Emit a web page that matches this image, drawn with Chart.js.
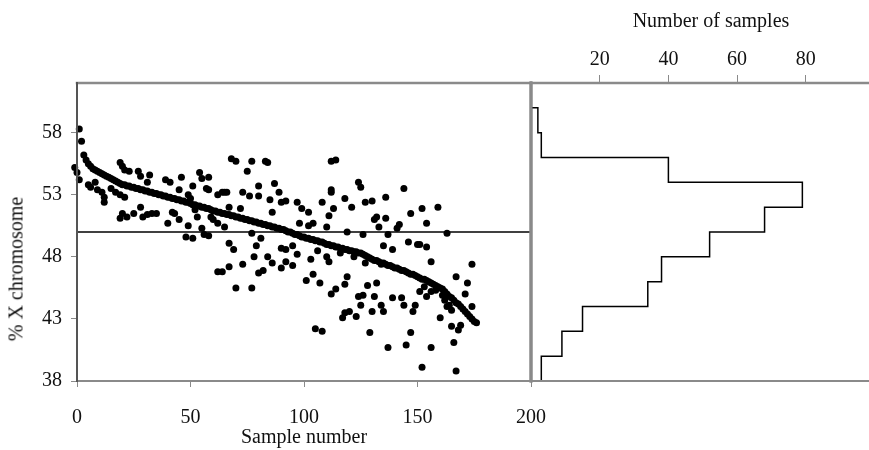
<!DOCTYPE html>
<html>
  <head>
    <title>% X chromosome</title>
    <script src="https://cdn.jsdelivr.net/npm/chart.js"></script>
    <style>
      body {
        margin: 0;
        background: white;
        font-family: "Liberation Serif", serif;
      }
      .wrap {
        position: relative;
        width: 869px;
        height: 450px;
        overflow: hidden;
      }
      canvas {
        position: absolute;
        top: 0;
      }
      #scatterChart {
        left: 0;
      }
      #histChart {
        left: 500px;
      }
      .ytitle {
        position: absolute;
        left: 16px;
        top: 269px;
        transform: translate(-50%, -50%) rotate(-90deg);
        font-size: 20px;
        color: #111;
        white-space: nowrap;
      }
      .toptitle {
        position: absolute;
        left: 711px;
        top: 20px;
        transform: translate(-50%, -50%);
        font-size: 20px;
        color: #111;
        white-space: nowrap;
      }
    </style>
  </head>
  <body>
    <div class="wrap">
      <canvas id="scatterChart" width="555" height="450"></canvas>
      <canvas id="histChart" width="369" height="450"></canvas>
      <div class="ytitle">% X chromosome</div>
      <div class="toptitle">Number of samples</div>
    </div>

    <script>
      // sorted values, samples 1..176
      const curveVals = [
        58.3, 57.3, 56.2, 55.8, 55.5, 55.3, 55.1, 55.0, 54.9, 54.8,
        54.7, 54.6, 54.5, 54.4, 54.3, 54.2, 54.1, 54.0, 53.9, 53.8,
        53.8, 53.7, 53.7, 53.6, 53.6, 53.5, 53.5, 53.4, 53.4, 53.3,
        53.3, 53.2, 53.2, 53.1, 53.1, 53.0, 53.0, 52.9, 52.9, 52.8,
        52.8, 52.7, 52.7, 52.6, 52.6, 52.5, 52.5, 52.4, 52.4, 52.3,
        52.2, 52.2, 52.1, 52.1, 52.0, 52.0, 51.9, 51.9, 51.8, 51.7,
        51.7, 51.6, 51.6, 51.5, 51.5, 51.4, 51.4, 51.3, 51.3, 51.2,
        51.2, 51.1, 51.1, 51.0, 51.0, 50.9, 50.9, 50.8, 50.8, 50.7,
        50.7, 50.6, 50.6, 50.5, 50.5, 50.4, 50.4, 50.3, 50.3, 50.2,
        50.2, 50.1, 50.0, 50.0, 49.9, 49.8, 49.8, 49.7, 49.6, 49.6,
        49.5, 49.5, 49.4, 49.4, 49.3, 49.3, 49.2, 49.2, 49.1, 49.0,
        49.0, 48.9, 48.9, 48.8, 48.8, 48.7, 48.7, 48.6, 48.6, 48.5,
        48.5, 48.4, 48.4, 48.3, 48.3, 48.2, 48.1, 48.0, 47.9, 47.8,
        47.7, 47.7, 47.6, 47.5, 47.5, 47.4, 47.3, 47.3, 47.2, 47.1,
        47.1, 47.0, 46.9, 46.9, 46.8, 46.7, 46.6, 46.6, 46.5, 46.4,
        46.3, 46.2, 46.2, 46.1, 46.0, 45.9, 45.8, 45.7, 45.6, 45.5,
        45.4, 45.2, 45.0, 44.8, 44.7, 44.5, 44.3, 44.2, 44.0, 43.8,
        43.6, 43.4, 43.2, 43.0, 42.8, 42.7
      ];

      // scattered values
      const scatterX = [
        -3, -1, 0, 1, 5, 6, 8, 9, 11, 12, 12, 15, 17, 19, 19, 20, 20, 19, 21, 21,
        22, 23, 25, 27, 28, 28, 29, 31, 31, 32, 33, 35, 39, 40, 41, 42, 43, 45, 45, 46,
        48, 49, 49, 50, 51, 51, 52, 53, 54, 55, 55, 56, 58, 58, 57, 58, 59, 60, 62, 62,
        62, 64, 64, 65, 65, 66, 67, 67, 67, 68, 69, 70, 70, 72, 73, 73, 75, 76, 77, 77,
        77, 78, 79, 80, 80, 80, 81, 82, 83, 84, 84, 85, 86, 86, 87, 89, 90, 90, 90, 92,
        92, 92, 95, 95, 97, 97, 98, 99, 101, 102, 102, 103, 104, 104, 105, 106, 107, 108, 108, 110,
        110, 111, 111, 112, 112, 112, 112, 113, 114, 114, 116, 117, 118, 118, 118, 119, 119, 120, 121, 122,
        123, 124, 124, 125, 125, 126, 126, 127, 127, 128, 129, 130, 130, 131, 131, 132, 132, 133, 134, 135,
        135, 136, 136, 137, 137, 134, 139, 139, 141, 142, 143, 144, 144, 145, 146, 147, 147, 148, 149, 150,
        151, 151, 152, 152, 153, 154, 154, 154, 156, 156, 159, 160, 163, 164, 165, 165, 166, 167, 167, 168,
        169, 171, 172, 174, 174, 156, 158, 161, 162, 163
      ];
      const scatterY = [
        57.8, 55.2, 54.8, 54.2, 53.8, 53.6, 54.0, 53.4, 53.2, 52.8, 52.4, 53.5, 53.2, 55.6, 53.0, 55.3, 51.5, 51.1, 55.0, 52.8,
        51.2, 54.9, 51.5, 54.9, 54.5, 52.0, 51.2, 51.4, 54.0, 54.6, 51.5, 51.5, 54.2, 50.7, 54.0, 51.6, 51.5, 51.0, 53.4, 54.4,
        49.6, 50.5, 53.0, 52.7, 53.7, 49.5, 51.8, 51.2, 54.8, 54.3, 50.3, 49.8, 54.4, 49.7, 53.5, 53.4, 51.2, 51.0, 53.0, 50.7,
        46.8, 46.8, 53.2, 50.4, 53.2, 53.2, 47.2, 49.1, 52.0, 55.9, 48.6, 55.7, 45.5, 51.9, 47.4, 53.2, 54.9, 52.9, 49.9, 55.7,
        45.5, 48.0, 48.9, 46.7, 53.7, 52.9, 49.5, 46.9, 55.7, 48.0, 55.6, 52.6, 51.6, 47.5, 53.9, 53.2, 47.1, 48.7, 52.4, 47.6,
        52.5, 48.6, 47.3, 48.9, 48.2, 52.4, 50.7, 51.9, 46.1, 51.6, 50.5, 47.8, 50.7, 46.6, 42.2, 48.5, 45.9, 52.4, 42.0, 50.4,
        48.0, 51.3, 47.6, 55.7, 53.4, 53.2, 45.0, 51.9, 55.8, 45.4, 48.3, 43.1, 52.7, 45.8, 43.5, 50.0, 46.4, 43.6, 52.0, 48.0,
        43.2, 54.0, 44.8, 53.6, 44.1, 49.8, 44.9, 52.4, 47.5, 45.7, 41.9, 52.5, 43.6, 51.0, 44.8, 51.2, 45.9, 50.4, 44.1, 43.6,
        48.9, 52.8, 51.1, 40.7, 49.8, 47.4, 44.7, 48.6, 50.3, 50.6, 44.7, 53.5, 44.1, 40.9, 49.2, 51.5, 41.9, 43.6, 44.1, 49.0,
        49.0, 45.2, 51.9, 39.1, 45.6, 50.7, 48.8, 44.8, 47.6, 40.7, 52.0, 43.1, 49.9, 44.1, 43.7, 42.4, 41.1, 46.4, 38.8, 42.1,
        42.5, 45.0, 45.9, 47.4, 44.0, 45.2, 45.3, 44.9, 44.5, 44.0
      ];

      const refLevel = 50;
      const yTicks = [38, 43, 48, 53, 58];

      // histogram: bin lower edges and counts
      const binLow = [38, 40, 42, 44, 46, 48, 50, 52, 54, 56, 58];
      const binCount = [3, 9, 15, 34, 38, 52, 68, 79, 40, 3, 2];
      const binWidth = 2;
      const countTicks = [20, 40, 60, 80];

      const font = { family: "'Liberation Serif', serif", size: 20 };
      const textColor = "#111";
      const frameColor = "#8a8a8a";

      // draws panel frame, side by side
      const framePlugin = {
        id: "frame",
        afterDraw(chart, args, opts) {
          const { ctx, chartArea: a } = chart;
          ctx.save();
          ctx.lineCap = "square";
          opts.sides.forEach((s) => {
            ctx.strokeStyle = s.color;
            ctx.lineWidth = s.width;
            ctx.beginPath();
            if (s.side === "left") {
              ctx.moveTo(a.left, a.top);
              ctx.lineTo(a.left, a.bottom);
            } else if (s.side === "right") {
              ctx.moveTo(a.right, a.top);
              ctx.lineTo(a.right, a.bottom);
            } else if (s.side === "top") {
              ctx.moveTo(a.left, a.top);
              ctx.lineTo(a.right, a.top);
            } else {
              ctx.moveTo(a.left, a.bottom);
              ctx.lineTo(a.right, a.bottom);
            }
            ctx.stroke();
          });
          ctx.restore();
        },
      };

      const curvePts = curveVals.map((v, i) => ({ x: i + 1, y: v }));
      const scatterPts = scatterX.map((x, i) => ({ x: x, y: scatterY[i] }));

      new Chart(document.getElementById("scatterChart"), {
        type: "scatter",
        data: {
          datasets: [
            {
              data: [
                { x: 0, y: refLevel },
                { x: 200, y: refLevel },
              ],
              showLine: true,
              borderColor: "#000",
              borderWidth: 1.3,
              pointRadius: 0,
            },
            {
              data: scatterPts,
              backgroundColor: "#000",
              borderWidth: 0,
              pointRadius: 3.5,
              clip: false,
            },
            {
              data: curvePts,
              backgroundColor: "#000",
              borderWidth: 0,
              pointRadius: 3.5,
              clip: false,
            },
          ],
        },
        options: {
          responsive: false,
          animation: false,
          layout: { padding: { top: 83, right: 24, left: 0, bottom: 0 } },
          plugins: {
            legend: { display: false },
            tooltip: { enabled: false },
            frame: {
              sides: [
                { side: "top", color: frameColor, width: 2.5 },
                { side: "bottom", color: frameColor, width: 2 },
                { side: "right", color: frameColor, width: 3 },
                { side: "left", color: "#555", width: 2 },
              ],
            },
          },
          scales: {
            x: {
              type: "linear",
              min: 0,
              max: 200,
              afterFit: (s) => {
                s.height = 69;
                s.paddingLeft = 0;
                s.paddingRight = 0;
              },
              ticks: {
                stepSize: 50,
                font: font,
                color: textColor,
                padding: 19,
                maxRotation: 0,
              },
              grid: {
                drawOnChartArea: false,
                tickLength: 6,
                color: frameColor,
              },
              border: { display: false },
              title: {
                display: true,
                text: "Sample number",
                font: font,
                color: textColor,
                padding: { top: -6, bottom: 0 },
              },
            },
            y: {
              min: 38,
              max: 62,
              afterFit: (s) => {
                s.width = 77;
              },
              afterBuildTicks: (s) => {
                s.ticks = yTicks.map((v) => ({ value: v }));
              },
              ticks: { font: font, color: textColor, padding: 9 },
              grid: {
                drawOnChartArea: false,
                tickLength: 6,
                color: frameColor,
              },
              border: { display: false },
            },
          },
        },
        plugins: [framePlugin],
      });

      // step outline of the histogram, top bin first
      const histPts = [];
      for (let i = binLow.length - 1; i >= 0; i--) {
        histPts.push({ x: binCount[i], y: binLow[i] + binWidth });
        histPts.push({ x: binCount[i], y: binLow[i] });
      }
      histPts.unshift({ x: 0, y: binLow[binLow.length - 1] + binWidth });

      new Chart(document.getElementById("histChart"), {
        type: "scatter",
        data: {
          datasets: [
            {
              data: histPts,
              showLine: true,
              borderColor: "#000",
              borderWidth: 1.5,
              pointRadius: 0,
              tension: 0,
            },
          ],
        },
        options: {
          responsive: false,
          animation: false,
          layout: { padding: { top: 0, right: 0, left: 31, bottom: 69 } },
          plugins: {
            legend: { display: false },
            tooltip: { enabled: false },
            frame: {
              sides: [
                { side: "top", color: frameColor, width: 2.5 },
                { side: "bottom", color: frameColor, width: 2 },
                { side: "left", color: frameColor, width: 3 },
              ],
            },
          },
          scales: {
            x: {
              type: "linear",
              position: "top",
              min: 0,
              max: 98.4,
              afterFit: (s) => {
                s.height = 83;
              },
              afterBuildTicks: (s) => {
                s.ticks = countTicks.map((v) => ({ value: v }));
              },
              ticks: { font: font, color: textColor, padding: 3, maxRotation: 0 },
              grid: {
                drawOnChartArea: false,
                tickLength: 8,
                color: frameColor,
              },
              border: { display: false },
            },
            y: {
              display: false,
              min: 38,
              max: 62,
            },
          },
        },
        plugins: [framePlugin],
      });
    </script>
  </body>
</html>
